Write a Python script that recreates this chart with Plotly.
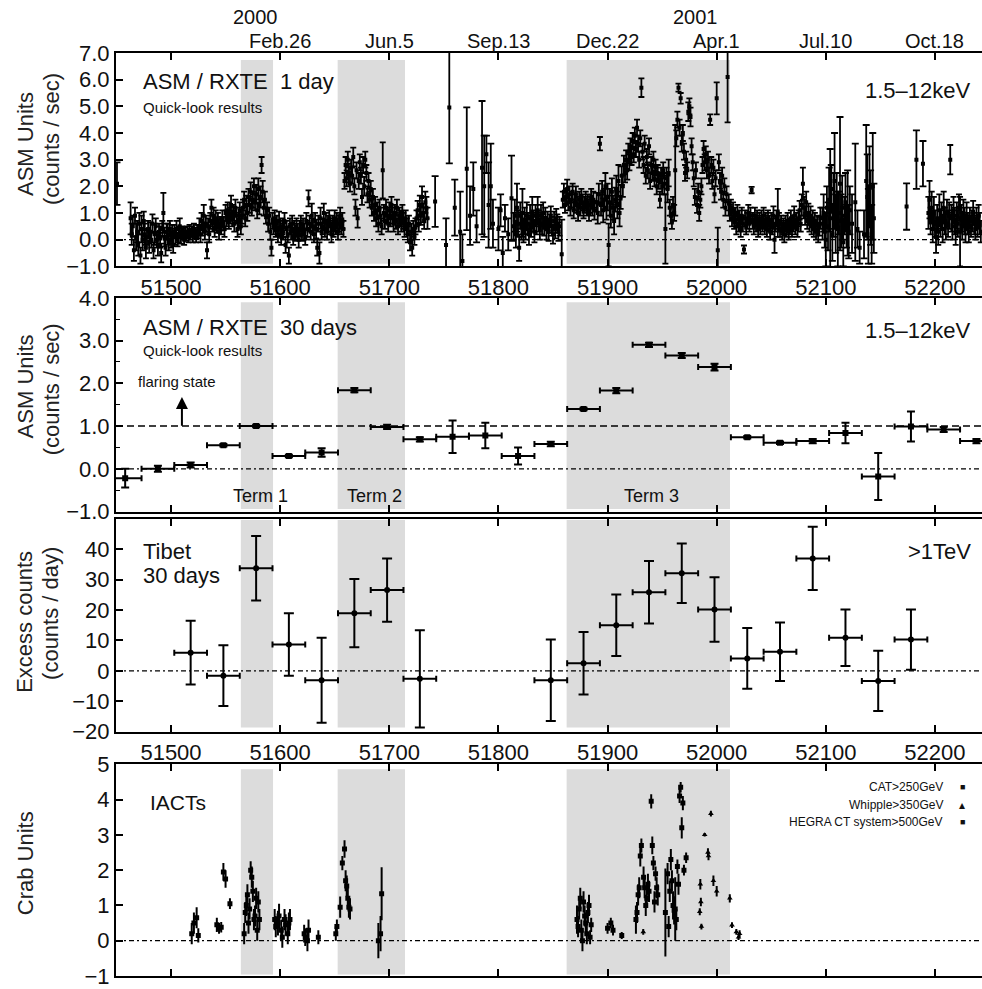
import plotly.graph_objects as go

# ---------------- data ----------------
# Panel 1: ASM/RXTE 1-day (dense consecutive-day segments + isolated points)
seg_a_start = 51463
seg_a_val = [0.8,0.2,0.5,-0.4,0.9,0.1,0.3,-0.2,0.6,-0.6,
             0.4,0.0,0.7,0.2,-0.3,0.1,0.4,-0.1,0.3,0.0,
             0.6,-0.4,0.2,0.5,0.0,-0.2,0.3,0.1,-0.5,0.4,
             1.0,0.1,-0.3,0.3,0.2,-0.1,0.4,0.0,0.2,-0.2,
             0.3,0.1,0.4,0.0,0.2,0.5,0.1,0.3,0.2,0.0,
             0.25,0.15,0.3,0.1,0.35,0.2,0.3,0.15,0.4,0.25,
             0.1,0.35,0.3,0.5,0.2,0.7,0.4,0.9,0.3,0.6,
             -0.4,0.5,0.2,0.7,1.2,0.6,0.9,0.4,0.8,0.5,
             0.7,0.3,0.6,0.5,0.8,0.6,0.4,1.0,0.8,1.1,
             0.7,0.9,1.3,0.8,1.0,0.6,1.2,0.9,0.4,0.7,
             1.1,0.5,0.9,1.2,1.5,0.8,1.3,1.0,1.6,1.3,
             1.8,1.2,1.5,2.0,1.4,1.7,1.1,1.9,1.3,1.6,
             2.8,1.8,1.2,1.5,0.9,1.1,0.6,0.9,0.3,-0.3,
             0.7,0.5,0.8,0.4,0.6,0.2,0.7,0.4,0.1,0.5,
             0.3,0.7,-0.2,0.4,0.2,-0.6,0.5,0.3,0.6,0.1,
             0.4,0.2,0.5,0.3,0.0,0.4,0.6,0.2,0.5,0.3,
             0.1,0.7,0.4,1.55,0.6,0.3,0.9,0.5,0.2,0.7,
             0.4,-0.3,0.6,-0.5,0.8,0.3,0.5,1.0,0.4,0.7,
             0.3,0.6,0.8,0.5,0.2,0.6,0.4,0.8,0.5,0.7,
             0.3,0.6,0.9,0.5,0.7,0.4,2.2,2.8,2.3,3.0,
             2.5,2.1,2.7,2.4,3.1,2.0,1.2,2.6,0.8,2.2,
             2.9,2.4,1.6,2.8,2.0,3.0,2.5,1.7,2.2,1.5,
             1.9,1.2,1.6,1.0,1.3,0.8,1.1,0.6,1.2,0.9,
             0.5,2.6,1.0,0.7,1.2,0.9,0.6,1.1,0.8,1.3,
             0.9,0.6,1.0,0.7,1.2,0.5,0.9,0.8,0.6,1.0,
             0.7,0.4,0.8,0.5,0.2,0.6,-0.1,0.3,-0.3,0.4,
             0.1,0.5,0.8,1.1,0.6,1.3,0.9,1.6,1.0,0.7,
             1.4,1.2,0.8]
seg_a_err = [0.6,0.4,0.4,0.4,0.3,0.5,0.4,0.4,0.4,0.3,
             0.5,0.4,0.35,0.4,0.4,0.3,0.3,0.4,0.35,0.3,
             0.35,0.3,0.4,0.3,0.3,0.4,0.3,0.4,0.35,0.3,
             0.75,0.35,0.3,0.3,0.4,0.3,0.3,0.3,0.35,0.3,
             0.25,0.3,0.3,0.25,0.3,0.3,0.25,0.2,0.2,0.2,
             0.2,0.2,0.2,0.2,0.2,0.2,0.2,0.25,0.2,0.2,
             0.2,0.2,0.25,0.3,0.3,0.3,0.25,0.4,0.3,0.3,
             0.3,0.3,0.3,0.3,0.3,0.3,0.3,0.3,0.3,0.25,
             0.3,0.3,0.25,0.3,0.3,0.25,0.3,0.3,0.3,0.3,
             0.3,0.3,0.35,0.3,0.3,0.3,0.3,0.3,0.3,0.3,
             0.3,0.3,0.3,0.3,0.3,0.3,0.35,0.3,0.3,0.3,
             0.35,0.3,0.3,0.3,0.3,0.35,0.3,0.4,0.35,0.4,
             0.3,0.4,0.3,0.3,0.3,0.3,0.3,0.3,0.3,0.3,
             0.3,0.3,0.3,0.3,0.3,0.3,0.35,0.3,0.3,0.3,
             0.3,0.3,0.3,0.3,0.3,0.3,0.3,0.3,0.3,0.3,
             0.3,0.25,0.3,0.3,0.3,0.3,0.3,0.25,0.3,0.3,
             0.3,0.3,0.3,0.3,0.3,0.3,0.45,0.3,0.3,0.3,
             0.35,0.3,0.3,0.4,0.4,0.3,0.3,0.35,0.3,0.3,
             0.3,0.3,0.3,0.3,0.3,0.3,0.3,0.3,0.3,0.3,
             0.3,0.3,0.3,0.3,0.3,0.3,0.3,0.3,0.3,0.3,
             0.35,0.3,0.3,0.3,0.35,0.3,0.3,0.3,0.35,0.3,
             0.3,0.3,0.3,0.3,0.35,0.3,0.3,0.3,0.3,0.3,
             0.3,0.3,0.3,0.3,0.3,0.3,0.3,0.3,0.3,0.3,
             0.3,1.05,0.3,0.3,0.3,0.3,0.3,0.3,0.3,0.3,
             0.3,0.3,0.3,0.3,0.3,0.3,0.3,0.3,0.3,0.3,
             0.3,0.3,0.3,0.3,0.3,0.3,0.3,0.3,0.3,0.3,
             0.3,0.3,0.3,0.35,0.3,0.35,0.35,0.4,0.35,0.3,
             0.4,0.4,0.4]

seg_b_start = 51814
seg_b_val = [0.5,0.9,0.2,1.2,0.6,-0.3,0.9,0.5,1.0,0.3,
             0.7,0.4,0.9,0.6,0.2,0.8,0.5,1.0,0.7,0.3,
             0.9,0.6,1.1,0.7,0.4,0.9,0.6,1.0,0.5,0.8,
             0.4,0.7,0.3,0.6,0.9,0.5,0.2,0.7,0.4,0.8,
             0.6,0.3,0.5]
seg_b_err = [0.5,0.6,0.5,0.9,0.5,0.5,0.5,0.5,0.9,0.4,
             0.5,0.4,0.5,0.4,0.4,0.5,0.4,0.6,0.4,0.4,
             0.4,0.4,0.5,0.4,0.4,0.4,0.4,0.4,0.35,0.4,
             0.4,0.35,0.35,0.35,0.35,0.35,0.35,0.35,0.35,0.35,
             0.35,0.35,0.35]

seg_c_start = 51859
seg_c_val = [1.5,1.8,1.3,1.6,1.9,1.4,1.7,1.2,1.5,1.8,
             1.1,1.4,1.7,1.3,1.0,1.5,1.2,1.6,1.4,1.1,
             1.3,1.5,1.2,1.4,1.0,1.3,1.6,1.2,1.5,1.1]
seg_c_err = [0.3,0.3,0.3,0.3,0.35,0.3,0.3,0.3,0.3,0.3,
             0.3,0.3,0.3,0.3,0.3,0.3,0.3,0.3,0.3,0.3,
             0.3,0.3,0.3,0.3,0.3,0.3,0.3,0.3,0.3,0.35]

seg_d_start = 51890
seg_d_val = [1.4,1.0,1.7,3.6,1.3,1.8,1.1,1.5,2.0,1.2,
             1.6,-0.2,1.4,0.9,1.8,1.2,0.7,1.5,1.9,1.3,
             2.2,1.0,1.6,2.4,2.0,2.8,2.5,3.0,2.6,3.3,
             2.9,3.5,3.1,3.7,3.2,3.9,3.4,4.2,3.6,3.0,
             3.8,5.7,3.3,2.8,3.6,2.4,3.1,2.6,3.5,2.2,
             2.8,2.5,3.0,2.3,2.7,2.0,2.5,2.2,1.5,2.4,
             2.0,2.6,2.1,0.4,2.3,1.9,2.5,1.2,0.9,0.7,
             1.3,1.0,2.6,3.8,4.5,5.7,4.2,5.3,3.6,4.0,
             3.3,2.5,3.0,2.6,4.8,5.0,4.6,3.5,2.9,2.3,
             1.6,2.6,1.3,1.8,1.0,1.5,2.0,2.8,3.4,2.9,
             3.2,2.6,3.0,2.4,4.5,2.8,2.2,2.7,1.7,2.3,
             5.3,-0.4,2.9,2.2,1.8,2.4,1.5,2.0,1.2,1.7,
             6.1,1.4,1.0,1.2,0.8,1.1,0.7,0.9,0.5,1.0,
             0.6,0.8,0.4,0.9,0.6,-0.37,0.8,0.5,0.7,1.0,
             0.6,0.9,1.86,0.7,0.5,0.9,0.6,0.8,0.4,0.7,
             0.5,0.8,0.6,0.9,0.5,0.7,0.4,0.8,0.6,0.3,
             0.7,0.5,0.9,0.0,0.6,0.8,1.0,0.7,0.4,0.6,
             0.3,0.5,0.2,0.6,0.4,0.7,0.3,0.5,0.8,0.4,
             0.6,0.9,0.5,0.7,0.4,0.8,1.1,0.6,1.3,2.1,
             1.2,0.9,1.4,0.7,1.0,0.6,0.9,0.5,0.8,0.4,
             0.7,0.3,0.6,0.2,0.5,0.8]
seg_d_err = [0.35,0.4,0.4,0.25,0.4,0.4,0.45,0.4,0.5,0.45,
             0.5,0.8,0.5,0.45,0.5,0.45,0.5,0.45,0.5,0.5,
             0.6,0.5,0.45,0.35,0.4,0.35,0.35,0.35,0.35,0.3,
             0.3,0.3,0.3,0.3,0.3,0.3,0.3,0.3,0.3,0.3,
             0.3,0.35,0.3,0.3,0.3,0.3,0.3,0.3,0.3,0.3,
             0.3,0.3,0.3,0.3,0.3,0.3,0.3,0.3,0.3,0.3,
             0.3,0.3,0.4,1.3,0.4,0.5,0.5,0.3,0.3,0.3,
             0.3,0.3,1.7,0.3,0.3,0.15,0.3,0.2,0.3,0.3,
             0.3,0.3,0.3,0.3,0.35,0.3,0.35,0.3,0.3,0.3,
             0.3,0.3,0.3,0.3,0.3,0.3,0.3,0.3,0.3,0.3,
             0.3,0.3,0.3,0.3,0.2,0.3,0.3,0.3,0.3,0.3,
             0.6,0.85,0.3,0.3,0.3,0.3,0.3,0.3,0.3,0.3,
             1.7,0.3,0.3,0.3,0.3,0.3,0.3,0.3,0.3,0.3,
             0.3,0.3,0.3,0.3,0.3,0.15,0.3,0.3,0.3,0.3,
             0.3,0.3,0.12,0.3,0.3,0.3,0.3,0.3,0.3,0.3,
             0.3,0.3,0.3,0.3,0.3,0.3,0.3,0.3,0.3,0.3,
             0.3,0.3,0.35,0.5,0.3,0.3,0.9,0.3,0.3,0.3,
             0.3,0.3,0.3,0.3,0.3,0.3,0.3,0.3,0.3,0.3,
             0.3,0.35,0.3,0.3,0.3,0.3,0.35,0.3,0.4,0.6,
             0.4,0.35,0.4,0.3,0.35,0.3,0.35,0.3,0.3,0.3,
             0.3,0.3,0.3,0.3,0.35,0.4]

seg_g_start = 52194
seg_g_val = [1.0,1.5,0.7,1.2,0.4,1.0,0.6,0.1,0.8,0.3,
             1.1,0.6,0.9,0.4,1.2,0.7,0.5,1.0,0.6,0.9,
             3.0,0.8,0.5,1.1,0.7,0.3,0.9,0.6,1.2,0.3,
             0.8,0.5,1.0,0.7,0.4,0.9,0.6,0.3,0.8,0.5,
             0.7,1.0,0.6,0.4,0.8,0.5,0.9,0.6,0.3]
seg_g_err = [0.6,0.7,0.5,0.6,0.5,0.6,0.5,0.6,0.5,0.5,
             0.6,0.5,0.5,0.5,0.6,0.5,0.5,0.5,0.5,0.5,
             0.55,0.5,0.5,0.5,0.5,0.5,0.5,0.5,0.5,1.3,
             0.5,0.5,0.5,0.5,0.5,0.5,0.4,0.4,0.4,0.4,
             0.4,0.45,0.4,0.4,0.4,0.4,0.4,0.4,0.4]

iso_day = [51450.5, 51742, 51752, 51755, 51760, 51765, 51767, 51771, 51774, 51777,
           51780, 51785, 51787, 51789, 51791, 51793, 51795, 51800, 51802, 51804,
           51806, 51809, 51812, 51858,
           52097, 52098, 52099, 52100, 52101, 52102, 52103, 52104, 52105, 52106,
           52107, 52108, 52109, 52110, 52111, 52112, 52113, 52114, 52115, 52116,
           52117, 52118, 52119, 52120, 52121, 52122, 52124, 52127, 52129, 52131,
           52135, 52137, 52138, 52139, 52140, 52141, 52142, 52143, 52144,
           52174, 52183, 52189]
iso_val = [2.1, 1.43, -0.2, 4.96, 1.2, 0.3, -0.8, 2.66, 0.9, 1.9,
           0.5, 2.7, 2.0, 3.2, 1.3, 2.0, 0.6, 0.4, 1.1, -0.5,
           0.8, 0.2, 1.55, -0.55,
           0.6, 1.0, 0.3, 0.0, 1.2, 0.5, 1.5, 0.8, 1.9, 0.2,
           1.3, 2.2, 0.6, 1.5, 0.4, 1.0, 2.1, 0.7, 1.2, -0.1,
           0.9, 1.4, 0.5, 1.0, 0.3, 1.1, 0.6, 1.4, 0.4, -0.3,
           0.2, 2.2, 1.6, 0.5, 2.0, 1.2, 0.2, 2.0, 0.8,
           1.24, 3.0, 2.85]
iso_err = [0.8, 0.95, 1.0, 2.1, 1.05, 1.5, 1.0, 2.3, 1.1, 1.0,
           0.6, 2.5, 1.9, 0.7, 1.6, 1.6, 0.9, 0.8, 0.6, 0.6,
           0.5, 0.6, 1.6, 1.3,
           0.6, 0.7, 0.6, 1.0, 0.8, 0.9, 1.2, 2.6, 0.9, 1.0,
           1.2, 1.8, 1.1, 1.0, 1.4, 0.8, 2.5, 1.0, 1.2, 0.9,
           0.7, 1.1, 0.8, 1.6, 1.0, 0.9, 1.1, 2.2, 0.7, 0.6,
           0.9, 2.1, 1.6, 1.4, 1.5, 1.4, 1.1, 2.0, 1.3,
           0.87, 1.1, 0.85]

# Panel 2: ASM/RXTE 30-day averages
asm30_day = [51458, 51488, 51518, 51548, 51578, 51608, 51638, 51668, 51698, 51728,
             51758, 51788, 51818, 51848, 51878, 51908, 51938, 51968, 51998, 52028,
             52058, 52088, 52118, 52148, 52178, 52208, 52238]
asm30_val = [-0.22, 0.0, 0.09, 0.55, 1.0, 0.30, 0.38, 1.84, 0.98, 0.69,
             0.75, 0.78, 0.30, 0.58, 1.40, 1.83, 2.90, 2.65, 2.38, 0.74,
             0.61, 0.65, 0.84, -0.18, 0.99, 0.92, 0.65]
asm30_err = [0.22, 0.07, 0.06, 0.03, 0.03, 0.03, 0.1, 0.05, 0.05, 0.05,
             0.38, 0.3, 0.2, 0.05, 0.03, 0.06, 0.05, 0.06, 0.08, 0.03,
             0.03, 0.05, 0.24, 0.55, 0.35, 0.06, 0.05]

# Panel 3: Tibet 30-day excess
tibet_day = [51518, 51548, 51578, 51608, 51638, 51668, 51698, 51728, 51848, 51878,
             51908, 51938, 51968, 51998, 52028, 52058, 52088, 52118, 52148, 52178]
tibet_val = [6.0, -1.6, 33.8, 8.7, -3.1, 19.0, 26.6, -2.6, -3.1, 2.5,
             15.0, 25.9, 32.1, 20.2, 4.1, 6.3, 37.0, 10.9, -3.3, 10.3]
tibet_err = [10.5, 10.0, 10.6, 10.3, 14.0, 11.2, 10.4, 16.0, 13.4, 10.3,
             10.1, 10.3, 9.8, 10.6, 10.0, 9.6, 10.4, 9.3, 9.9, 9.9]

# Panel 4: IACTs
cat_day = [51519, 51521, 51523.5, 51525, 51542, 51544, 51546, 51548, 51550, 51554,
           51567, 51569, 51571, 51573, 51575, 51577, 51580,
           51595, 51598, 51601, 51604, 51607, 51623, 51626, 51635,
           51651, 51655, 51657, 51659, 51661, 51663, 51690, 51692, 51693]
cat_val = [0.2, 0.5, 0.65, 0.15, 0.45, 0.35, 0.38, 1.95, 1.75, 1.05,
           0.2, 1.0, 0.5, 2.0, 1.4, 0.7, 1.1,
           0.6, 0.5, 0.3, 0.6, 0.2, 0.1, 0.3, 0.1,
           0.2, 0.95, 2.2, 2.6, 1.55, 0.95, 0.0, 0.2, 1.33]
cat_err = [0.3, 0.3, 0.3, 0.2, 0.2, 0.15, 0.15, 0.25, 0.25, 0.15,
           0.3, 0.3, 0.3, 0.25, 0.3, 0.3, 0.3,
           0.3, 0.35, 0.3, 0.3, 0.3, 0.25, 0.3, 0.2,
           0.2, 0.3, 0.2, 0.25, 0.3, 0.3, 0.5, 0.5, 0.75]

hegra_day = [51568, 51570, 51572, 51574, 51576, 51578, 51579, 51581,
             51596, 51599, 51602, 51605, 51608, 51609, 51622, 51625,
             51652, 51660, 51662, 51664,
             51872, 51873, 51874, 51875, 51876, 51877, 51878, 51879, 51880, 51881,
             51882, 51883, 51884, 51885, 51900, 51903, 51905, 51913,
             51926, 51927, 51928, 51929, 51930, 51931, 51933, 51934, 51935, 51936,
             51937, 51938, 51940, 51941, 51942, 51943, 51944, 51945, 51946,
             51953, 51955, 51956, 51957, 51958, 51959, 51960, 51961, 51962, 51963,
             51964, 51965, 51966, 51967, 51968, 51969, 51970, 51972]
hegra_val = [0.8, 1.3, 0.9, 1.8, 0.6, 1.2, 0.3, 0.6,
             0.4, 0.7, 0.1, 0.45, 0.5, 0.6, 0.2, 0.0,
             0.4, 1.7, 1.2, 0.9,
             0.6, 0.4, 0.9, 1.2, 0.3, 0.0, 1.1, 0.7, 0.5, 0.2,
             0.8, 1.0, 0.1, 0.45, 0.35, 0.5, 0.3, 0.15,
             0.6, 0.8, 1.3, 1.5, 2.4, 2.7, 1.8, 1.5, 1.0, 1.2,
             1.6, 1.4, 3.95, 2.7, 2.2, 1.1, 1.9, 1.5, 1.3,
             0.8, 1.9, 0.4, 1.4, 2.3, 1.7, 1.0, 0.86, 0.9, 0.6,
             2.1, 1.6, 4.1, 4.35, 3.2, 3.9, 2.0, 2.35]
hegra_err = [0.3, 0.3, 0.3, 0.3, 0.3, 0.3, 0.3, 0.3,
             0.3, 0.35, 0.3, 0.3, 0.3, 0.3, 0.25, 0.3,
             0.2, 0.3, 0.3, 0.3,
             0.4, 0.3, 0.3, 0.3, 0.3, 0.3, 0.3, 0.3, 0.3, 0.3,
             0.3, 0.3, 0.2, 0.2, 0.15, 0.15, 0.15, 0.1,
             0.4, 0.3, 0.3, 0.3, 0.3, 0.2, 0.3, 0.3, 0.3, 0.25,
             0.3, 0.3, 0.2, 0.25, 0.2, 0.3, 0.2, 0.3, 0.3,
             1.25, 0.3, 0.3, 0.3, 0.3, 0.3, 0.4, 0.4, 0.9, 0.3,
             0.2, 0.3, 0.2, 0.15, 0.3, 0.2, 0.15, 0.15]

whipple_day = [51932.7, 51984.5, 51985, 51985.5, 51986, 51989, 51992, 51992.5, 51994.7,
               51997, 52000, 52012, 52014, 52018, 52020, 52021]
whipple_val = [0.25, 0.82, 1.6, 1.1, 0.4, 3.0, 2.5, 2.4, 3.6,
               1.7, 1.4, 1.2, 0.44, 0.25, 0.1, 0.2]
whipple_err = [0.08, 0.1, 0.15, 0.12, 0.08, 0.05, 0.12, 0.12, 0.08,
               0.15, 0.15, 0.12, 0.08, 0.08, 0.08, 0.1]

# Tick labels / periods
mjd_ticks = [51500, 51600, 51700, 51800, 51900, 52000, 52100, 52200]
date_ticks = [51600, 51700, 51800, 51900, 52000, 52100, 52200]
date_labels = ["Feb.26", "Jun.5", "Sep.13", "Dec.22", "Apr.1", "Jul.10", "Oct.18"]
term_start = [51564, 51652.7, 51862.5]
term_end = [51593.5, 51714.4, 52012.2]
term_names = ["Term 1", "Term 2", "Term 3"]

# ---------------- figure ----------------
FONT = "Liberation Sans, Arial, Helvetica, sans-serif"
W, H = 982, 989
ML, MT, MB = 116, 53, 3
PW, PH = W - ML, H - MT - MB


def PX(px):
    return (px - ML) / PW


def PY(py):
    return (H - MB - py) / PH


fig = go.Figure()

# panel 1
for start, vals, errs in [(seg_a_start, seg_a_val, seg_a_err), (seg_b_start, seg_b_val, seg_b_err),
                          (seg_c_start, seg_c_val, seg_c_err), (seg_d_start, seg_d_val, seg_d_err),
                          (seg_g_start, seg_g_val, seg_g_err)]:
    days = list(range(start, start + len(vals)))
    fig.add_trace(go.Scatter(x=days, y=vals, mode="markers", xaxis="x", yaxis="y",
                             marker=dict(color="black", size=4, symbol="square"),
                             error_y=dict(type="data", array=errs, color="black", thickness=1.8, width=3)))
fig.add_trace(go.Scatter(x=iso_day, y=iso_val, mode="markers", xaxis="x", yaxis="y",
                         marker=dict(color="black", size=4, symbol="square"),
                         error_y=dict(type="data", array=iso_err, color="black", thickness=1.8, width=3.5)))

# panel 2
fig.add_trace(go.Scatter(x=asm30_day, y=asm30_val, mode="markers", xaxis="x2", yaxis="y2",
                         marker=dict(color="black", size=6, symbol="square"),
                         error_x=dict(type="constant", value=15, color="black", thickness=2, width=3),
                         error_y=dict(type="data", array=asm30_err, color="black", thickness=2, width=4)))

# panel 3
fig.add_trace(go.Scatter(x=tibet_day, y=tibet_val, mode="markers", xaxis="x3", yaxis="y3",
                         marker=dict(color="black", size=6),
                         error_x=dict(type="constant", value=15, color="black", thickness=2, width=3),
                         error_y=dict(type="data", array=tibet_err, color="black", thickness=2, width=5)))

# panel 4
for d, v, e, sym, sz in [(cat_day, cat_val, cat_err, "square", 5),
                         (hegra_day, hegra_val, hegra_err, "square", 5),
                         (whipple_day, whipple_val, whipple_err, "triangle-up", 5)]:
    fig.add_trace(go.Scatter(x=d, y=v, mode="markers", xaxis="x4", yaxis="y4",
                             marker=dict(color="black", size=sz, symbol=sym),
                             error_x=dict(type="constant", value=1.2, color="black", thickness=2, width=0),
                             error_y=dict(type="data", array=e, color="black", thickness=2, width=0)))

tickfont = dict(family=FONT, size=22, color="#111")
xbase = dict(range=[51449.6, 52243.1], showline=True, linecolor="black", linewidth=2, mirror="ticks",
             ticks="inside", ticklen=7, tickwidth=1.5, tickcolor="black", tickvals=mjd_ticks,
             tickformat="d", showgrid=False, zeroline=False, tickfont=tickfont, domain=[0, 1])
ybase = dict(showline=True, linecolor="black", linewidth=2, mirror=False, ticks="inside", ticklen=7,
             tickwidth=1.5, tickcolor="black", showgrid=False, zeroline=False, tickfont=tickfont)

doms = [[PY(268.6), 1.0], [PY(516.5), PY(300.5)], [PY(739), PY(524)], [0.0, PY(772)]]

layout = dict(
    width=W, height=H, margin=dict(l=ML, r=0, t=MT, b=MB, pad=0),
    paper_bgcolor="white", plot_bgcolor="white", showlegend=False,
    font=dict(family=FONT, color="#111"),
    xaxis=dict(xbase, anchor="y", showticklabels=True),
    xaxis2=dict(xbase, anchor="y2", showticklabels=False),
    xaxis3=dict(xbase, anchor="y3", showticklabels=True),
    xaxis4=dict(xbase, anchor="y4", showticklabels=False),
    yaxis=dict(ybase, domain=doms[0], range=[-1, 7], tickvals=[-1, 0, 1, 2, 3, 4, 5, 6, 7], tickformat=".1f", anchor="x"),
    yaxis2=dict(ybase, domain=doms[1], range=[-1, 4], tickvals=[-1, 0, 1, 2, 3, 4], tickformat=".1f", anchor="x2",
                minor=dict(ticks="inside", dtick=0.5, ticklen=4, tickcolor="black", tickwidth=1.2)),
    yaxis3=dict(ybase, domain=doms[2], range=[-20, 50], tickvals=[-20, -10, 0, 10, 20, 30, 40], anchor="x3"),
    yaxis4=dict(ybase, domain=doms[3], range=[-1, 5], tickvals=[-1, 0, 1, 2, 3, 4, 5], anchor="x4"),
)
fig.update_layout(**layout)

# shaded periods and reference lines
shade_y = [(0.012, 0.967), (0.012, 0.979), (0.019, 0.995), (0.007, 0.977)]
axes = ["", "2", "3", "4"]
shapes = []
for k, a in enumerate(axes):
    for s, e in zip(term_start, term_end):
        shapes.append(dict(type="rect", xref="x" + a, yref=("y" + a) + " domain", x0=s, x1=e,
                           y0=shade_y[k][0], y1=shade_y[k][1], fillcolor="#dcdcdc",
                           line=dict(width=0), layer="below"))
for a in axes:
    shapes.append(dict(type="line", xref="x" + a + " domain", yref="y" + a, x0=0, x1=1, y0=0, y1=0,
                       line=dict(color="black", width=1.3, dash="5px,3px,2px,3px"), layer="below"))
shapes.append(dict(type="line", xref="x2 domain", yref="y2", x0=0, x1=1, y0=1, y1=1,
                   line=dict(color="black", width=1.5, dash="7px,4px"), layer="below"))
fig.update_layout(shapes=shapes)

ann = []


def txt(text, x, y, size=22, xanchor="left", xref="paper", yref="paper", angle=0, color="#111"):
    ann.append(dict(text=text, x=x, y=y, xref=xref, yref=yref, xanchor=xanchor, yanchor="middle",
                    showarrow=False, textangle=angle, font=dict(family=FONT, size=size, color=color)))


# top date labels
for d, lab in zip(date_ticks, date_labels):
    txt(lab, d, PY(41), size=20, xanchor="center", xref="x")
txt("2000", PX(255), PY(17), size=20, xanchor="center")
txt("2001", PX(695), PY(17), size=20, xanchor="center")

# y titles
txt("ASM Units", PX(25), PY(145), angle=-90, xanchor="center", color="#222")
txt("(counts / sec)", PX(51), PY(140), angle=-90, xanchor="center", color="#222")
txt("ASM Units", PX(25), PY(390), angle=-90, xanchor="center", color="#222")
txt("(counts / sec)", PX(51), PY(393), angle=-90, xanchor="center", color="#222")
txt("Excess counts", PX(25), PY(628), angle=-90, xanchor="center", color="#222")
txt("(counts / day)", PX(51), PY(620), angle=-90, xanchor="center", color="#222")
txt("Crab Units", PX(25), PY(872), angle=-90, xanchor="center", color="#222")

# panel labels
txt("ASM / RXTE  1 day", PX(141), PY(82))
txt("Quick-look results", PX(141), PY(108), size=15)
txt("1.5\u201312keV", PX(973), PY(91), xanchor="right")
txt("ASM / RXTE  30 days", PX(141), PY(330))
txt("Quick-look results", PX(141), PY(354), size=15)
txt("flaring state", PX(136), PY(385), size=15)
txt("1.5\u201312keV", PX(973), PY(334), xanchor="right")
for s, e, n in zip(term_start, term_end, term_names):
    txt(n, (s + e) / 2 + 3, PY(501), size=18, xanchor="center", xref="x2")
txt("Tibet", PX(141), PY(557))
txt("30 days", PX(141), PY(581))
txt(">1TeV", PX(973), PY(557), xanchor="right")
txt("IACTs", PX(148), PY(811), size=21)
txt("CAT>250GeV", PX(945), PY(795), size=12, xanchor="right")
txt("Whipple>350GeV", PX(945), PY(813), size=12, xanchor="right")
txt("HEGRA CT system>500GeV", PX(945), PY(830), size=12, xanchor="right")
txt("\u25a0", PX(962), PY(795), size=9, xanchor="center")
txt("\u25b4", PX(962), PY(813), size=12, xanchor="center")
txt("\u25a0", PX(962), PY(830), size=9, xanchor="center")

# flaring-state arrow
ann.append(dict(x=51510, y=1.68, ax=51510, ay=0.97, xref="x2", yref="y2", axref="x2", ayref="y2",
                text="", showarrow=True, arrowhead=2, arrowsize=1.2, arrowwidth=2, arrowcolor="black"))

fig.update_layout(annotations=ann)

fig.write_html("out.html")
